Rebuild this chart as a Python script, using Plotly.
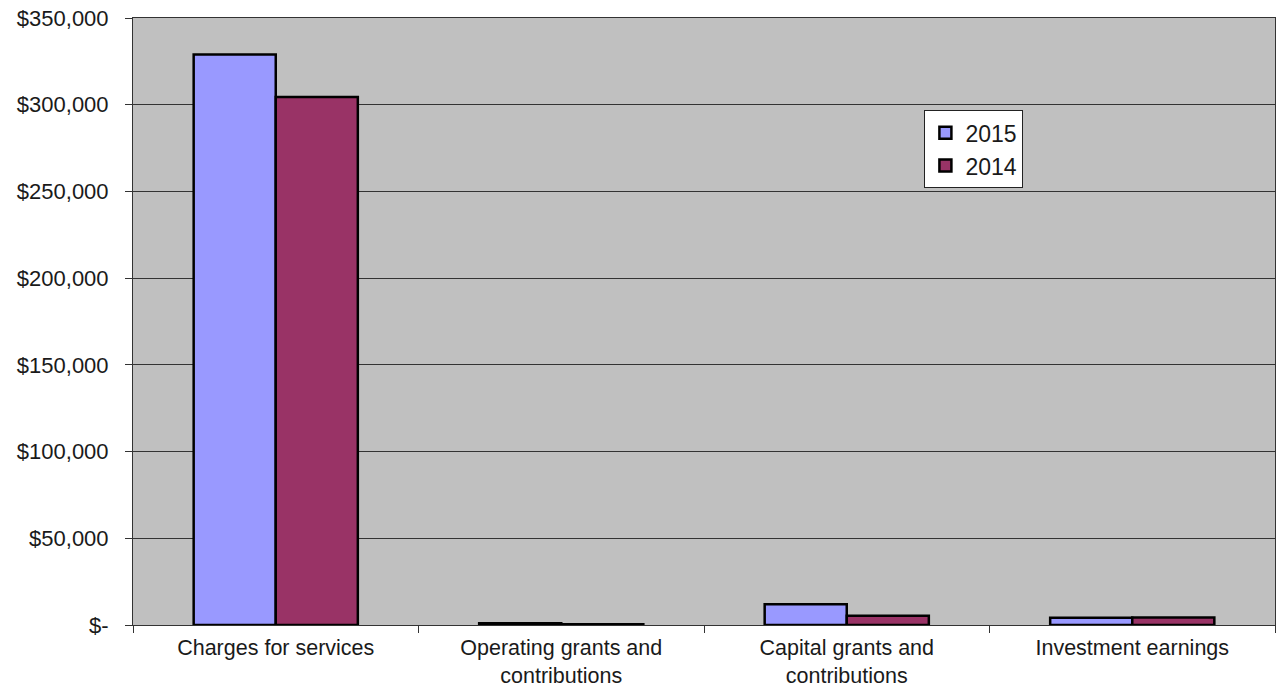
import plotly.graph_objects as go

categories = ["Charges for services", "Operating grants and<br>contributions",
              "Capital grants and<br>contributions", "Investment earnings"]
values_2015 = [329000, 1000, 11900, 4200]
values_2014 = [304500, 500, 5400, 4300]
tick_vals = [0, 50000, 100000, 150000, 200000, 250000, 300000, 350000]
tick_text = ["$-", "$50,000", "$100,000", "$150,000", "$200,000", "$250,000", "$300,000", "$350,000"]

yfont = dict(family="Liberation Sans, Arial, sans-serif", size=22, color="#1a1a1a")
xfont = dict(family="Liberation Sans, Arial, sans-serif", size=21.5, color="#1a1a1a")

fig = go.Figure()
fig.add_trace(go.Bar(name="2015", x=categories, y=values_2015,
                     marker=dict(color="#9999FF", line=dict(color="black", width=2.5))))
fig.add_trace(go.Bar(name="2014", x=categories, y=values_2014,
                     marker=dict(color="#993366", line=dict(color="black", width=2.5))))

fig.update_layout(
    width=1281, height=687,
    margin=dict(l=133, r=6, t=18, b=62),
    paper_bgcolor="white", plot_bgcolor="#C0C0C0",
    barmode="group", bargap=0.425, bargroupgap=0,
    font=yfont,
    showlegend=True,
    legend=dict(x=0.693, y=0.848, xanchor="left", yanchor="top",
                bgcolor="white", bordercolor="#222", borderwidth=1,
                font=dict(family="Liberation Sans, Arial, sans-serif", size=23, color="#1a1a1a"),
                itemwidth=30, tracegroupgap=4),
)
fig.update_xaxes(showline=True, linecolor="#333", linewidth=1, mirror=True,
                 ticks="outside", tickson="boundaries", ticklen=7, tickcolor="#333",
                 ticklabelstandoff=3, automargin=False,
                 showgrid=False, tickfont=xfont)
fig.update_yaxes(range=[0, 350000], tickvals=tick_vals, ticktext=tick_text,
                 showline=True, linecolor="#333", linewidth=1, mirror=True,
                 ticks="outside", ticklen=7, tickcolor="#333",
                 ticklabelstandoff=12, automargin=False,
                 showgrid=True, gridcolor="#333", gridwidth=1,
                 zeroline=False, tickfont=yfont)

fig.write_html("out.html")
